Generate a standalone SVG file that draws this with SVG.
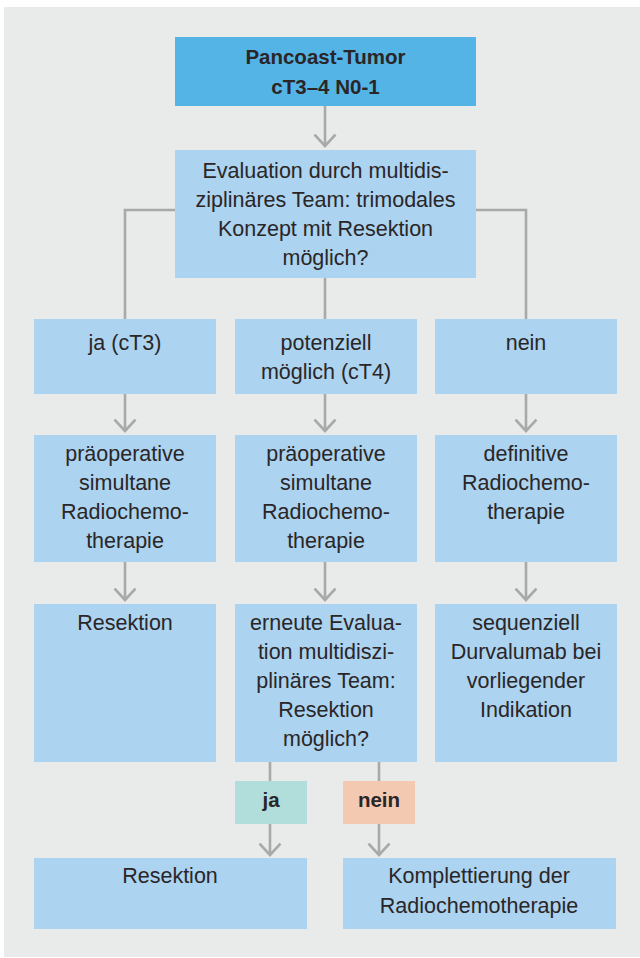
<svg xmlns="http://www.w3.org/2000/svg" width="640" height="958" viewBox="0 0 640 958">
  <defs>
    <style>
      .panel { fill: #e9ebea; }
      .box { fill: #acd3ef; }
      .head { fill: #55b4e6; }
      .yes { fill: #b1dedb; }
      .no { fill: #f3c9b2; }
      .lbl { font-family: "Liberation Sans", Arial, sans-serif; font-size: 21.5px; fill: #2a2627; text-anchor: middle; }
      .bold { font-weight: bold; font-size: 20.5px; }
      .wire { fill: none; stroke: #a9a9a9; stroke-width: 2.6; }
    </style>
    <marker id="chev" viewBox="0 0 14 24" refX="12.5" refY="12" markerWidth="14" markerHeight="24" markerUnits="userSpaceOnUse" orient="auto">
      <path d="M1,1.5 L12.5,12 L1,22.5" fill="none" stroke="#a9a9a9" stroke-width="2.6"/>
    </marker>
  </defs>

  <rect class="panel" x="4" y="7" width="636" height="950"/>

  <!-- connectors -->
  <g id="connectors">
    <path class="wire" d="M325,106 V146" marker-end="url(#chev)"/>
    <path class="wire" d="M175,210 H125 V319"/>
    <path class="wire" d="M476,210 H526 V319"/>
    <path class="wire" d="M325,278 V319"/>
    <path class="wire" d="M125,394 V431" marker-end="url(#chev)"/>
    <path class="wire" d="M325,394 V431" marker-end="url(#chev)"/>
    <path class="wire" d="M526,394 V431" marker-end="url(#chev)"/>
    <path class="wire" d="M125,562 V600" marker-end="url(#chev)"/>
    <path class="wire" d="M325,562 V600" marker-end="url(#chev)"/>
    <path class="wire" d="M526,562 V600" marker-end="url(#chev)"/>
    <path class="wire" d="M270,762 V781"/>
    <path class="wire" d="M379,762 V781"/>
    <path class="wire" d="M270,824 V855" marker-end="url(#chev)"/>
    <path class="wire" d="M379,824 V855" marker-end="url(#chev)"/>
  </g>

  <g id="start">
    <rect class="head" x="175" y="37" width="301" height="69"/>
    <text class="lbl bold" x="325.5" y="64">Pancoast-Tumor</text>
    <text class="lbl bold" x="325.5" y="94">cT3–4 N0-1</text>
  </g>

  <g id="evaluation">
    <rect class="box" x="175" y="150" width="301" height="128"/>
    <text class="lbl" x="325.5" y="178">Evaluation durch multidis-</text>
    <text class="lbl" x="325.5" y="207">ziplinäres Team: trimodales</text>
    <text class="lbl" x="325.5" y="236">Konzept mit Resektion</text>
    <text class="lbl" x="325.5" y="265">möglich?</text>
  </g>

  <g id="ja-ct3">
    <rect class="box" x="34" y="319" width="182" height="75"/>
    <text class="lbl" x="125" y="350">ja (cT3)</text>
  </g>

  <g id="potenziell">
    <rect class="box" x="235" y="319" width="182" height="75"/>
    <text class="lbl" x="326" y="350">potenziell</text>
    <text class="lbl" x="326" y="379">möglich (cT4)</text>
  </g>

  <g id="nein-1">
    <rect class="box" x="435" y="319" width="182" height="75"/>
    <text class="lbl" x="526" y="350">nein</text>
  </g>

  <g id="rct-left">
    <rect class="box" x="34" y="435" width="182" height="127"/>
    <text class="lbl" x="125" y="461">präoperative</text>
    <text class="lbl" x="125" y="490">simultane</text>
    <text class="lbl" x="125" y="519">Radiochemo-</text>
    <text class="lbl" x="125" y="548">therapie</text>
  </g>

  <g id="rct-middle">
    <rect class="box" x="235" y="435" width="182" height="127"/>
    <text class="lbl" x="326" y="461">präoperative</text>
    <text class="lbl" x="326" y="490">simultane</text>
    <text class="lbl" x="326" y="519">Radiochemo-</text>
    <text class="lbl" x="326" y="548">therapie</text>
  </g>

  <g id="rct-definitive">
    <rect class="box" x="435" y="435" width="182" height="127"/>
    <text class="lbl" x="526" y="461">definitive</text>
    <text class="lbl" x="526" y="490">Radiochemo-</text>
    <text class="lbl" x="526" y="519">therapie</text>
  </g>

  <g id="resektion-1">
    <rect class="box" x="34" y="604" width="182" height="158"/>
    <text class="lbl" x="125" y="630">Resektion</text>
  </g>

  <g id="re-evaluation">
    <rect class="box" x="235" y="604" width="182" height="158"/>
    <text class="lbl" x="326" y="630">erneute Evalua-</text>
    <text class="lbl" x="326" y="659">tion multidiszi-</text>
    <text class="lbl" x="326" y="688">plinäres Team:</text>
    <text class="lbl" x="326" y="717">Resektion</text>
    <text class="lbl" x="326" y="746">möglich?</text>
  </g>

  <g id="durvalumab">
    <rect class="box" x="435" y="604" width="182" height="158"/>
    <text class="lbl" x="526" y="630">sequenziell</text>
    <text class="lbl" x="526" y="659">Durvalumab bei</text>
    <text class="lbl" x="526" y="688">vorliegender</text>
    <text class="lbl" x="526" y="717">Indikation</text>
  </g>

  <g id="ja-label">
    <rect class="yes" x="235" y="781" width="72" height="43"/>
    <text class="lbl bold" x="271" y="807">ja</text>
  </g>

  <g id="nein-label">
    <rect class="no" x="343" y="781" width="72" height="43"/>
    <text class="lbl bold" x="379" y="807">nein</text>
  </g>

  <g id="resektion-2">
    <rect class="box" x="34" y="858" width="273" height="71"/>
    <text class="lbl" x="170" y="883">Resektion</text>
  </g>

  <g id="komplettierung">
    <rect class="box" x="343" y="858" width="273" height="71"/>
    <text class="lbl" x="479" y="883">Komplettierung der</text>
    <text class="lbl" x="479" y="913">Radiochemotherapie</text>
  </g>
</svg>
